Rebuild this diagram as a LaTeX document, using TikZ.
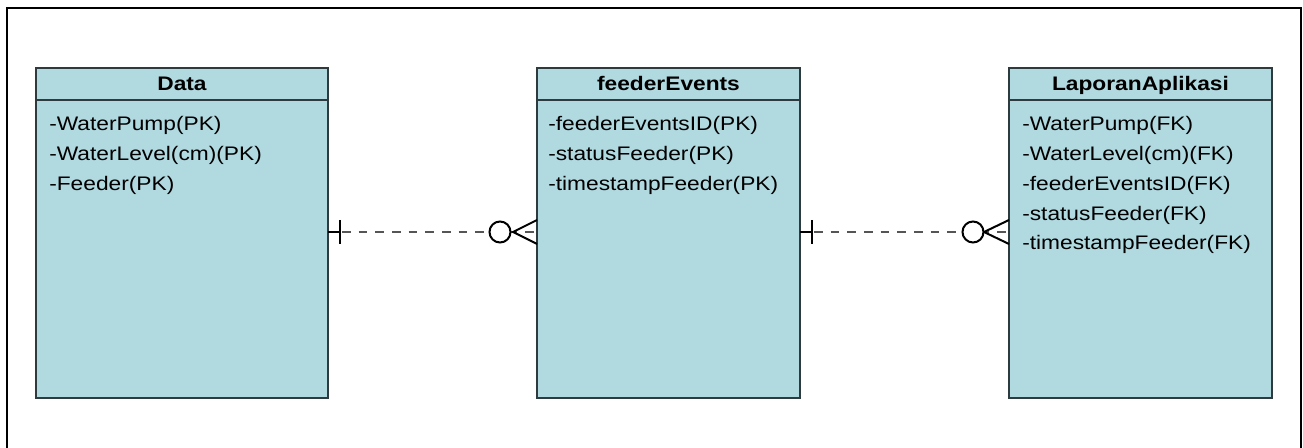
\documentclass[tikz,border=0pt]{standalone}
\usepackage{fontspec}
\setmainfont[FakeStretch=1.16]{Liberation Sans}
\usetikzlibrary{fit,calc}
\definecolor{tblfill}{HTML}{B0D9E0}
\definecolor{tbledge}{HTML}{2E3B3E}
\definecolor{dashcol}{HTML}{555555}
\begin{document}
\begin{tikzpicture}[x=0.75pt,y=-0.75pt,
  tbl/.style={draw=tbledge,fill=tblfill,line width=1.4pt,inner sep=0pt,outer sep=0pt},
  hdr/.style={font=\fontsize{14.7pt}{18pt}\selectfont\bfseries,anchor=base,inner sep=0pt},
  attr/.style={font=\fontsize{14.7pt}{18pt}\selectfont,anchor=base west,inner sep=0pt},
  rel/.style={draw=dashcol,line width=1.5pt,dash pattern=on 6.5pt off 6pt},
  crowmark/.style={draw=black,line width=1.5pt}]
\clip (0,0) rectangle (1303,448);
\useasboundingbox (0,0) rectangle (1303,448);
\fill[white] (0,0) rectangle (1303,448);
\draw[line width=1.6pt] (7,470) -- (7,8) -- (1301,8) -- (1301,470);

% tables
\node[tbl,fit={(36,68)(328,398)}] (data) {};
\node[tbl,fit={(537,68)(800,398)}] (fe) {};
\node[tbl,fit={(1009,68)(1272,398)}] (lap) {};
\draw[tbledge,line width=1.4pt] (data.west |- 0,100) coordinate (d1) -- (data.east |- 0,100) coordinate (d2);
\draw[tbledge,line width=1.4pt] (fe.west |- 0,100) coordinate (f1) -- (fe.east |- 0,100) coordinate (f2);
\draw[tbledge,line width=1.4pt] (lap.west |- 0,100) coordinate (l1) -- (lap.east |- 0,100) coordinate (l2);

% headers
\node[hdr] (dh) at (182,91) {Data};
\node[hdr] (fh) at (668.5,91) {feederEvents};
\node[hdr] (lh) at (1140.5,91) {LaporanAplikasi};

% attributes
\node[attr] (d_a) at (49,131) {-WaterPump(PK)};
\node[attr] (d_b) at (49,160.7) {-WaterLevel(cm)(PK)};
\node[attr] (d_c) at (49,190.4) {-Feeder(PK)};

\node[attr] (f_a) at (548,131) {-feederEventsID(PK)};
\node[attr] (f_b) at (548,160.7) {-statusFeeder(PK)};
\node[attr] (f_c) at (548,190.4) {-timestampFeeder(PK)};

\node[attr] (l_a) at (1022,131) {-WaterPump(FK)};
\node[attr] (l_b) at (1022,160.7) {-WaterLevel(cm)(FK)};
\node[attr] (l_c) at (1022,190.4) {-feederEventsID(FK)};
\node[attr] (l_d) at (1022,220.1) {-statusFeeder(FK)};
\node[attr] (l_e) at (1022,249.8) {-timestampFeeder(FK)};

% relation 1: Data -> feederEvents
\coordinate (r1s) at (data.east |- 0,232);
\coordinate (r1e) at (fe.west |- 0,232);
\draw[rel] ($(r1s)+(14,0)$) -- (r1e);
\draw[crowmark] (r1s) -- ($(r1s)+(12,0)$);
\draw[crowmark] ($(r1s)+(12,-12)$) -- ($(r1s)+(12,12)$);
\draw[crowmark] ($(r1e)+(0,-12)$) -- ($(r1e)+(-24,0)$) -- ($(r1e)+(0,12)$);
\draw[crowmark,fill=white] ($(r1e)+(-37,0)$) circle (10.5);

% relation 2: feederEvents -> LaporanAplikasi
\coordinate (r2s) at (fe.east |- 0,232);
\coordinate (r2e) at (lap.west |- 0,232);
\draw[rel] ($(r2s)+(14,0)$) -- (r2e);
\draw[crowmark] (r2s) -- ($(r2s)+(12,0)$);
\draw[crowmark] ($(r2s)+(12,-12)$) -- ($(r2s)+(12,12)$);
\draw[crowmark] ($(r2e)+(0,-12)$) -- ($(r2e)+(-25,0)$) -- ($(r2e)+(0,12)$);
\draw[crowmark,fill=white] ($(r2e)+(-36,0)$) circle (10.5);
\end{tikzpicture}
\end{document}
